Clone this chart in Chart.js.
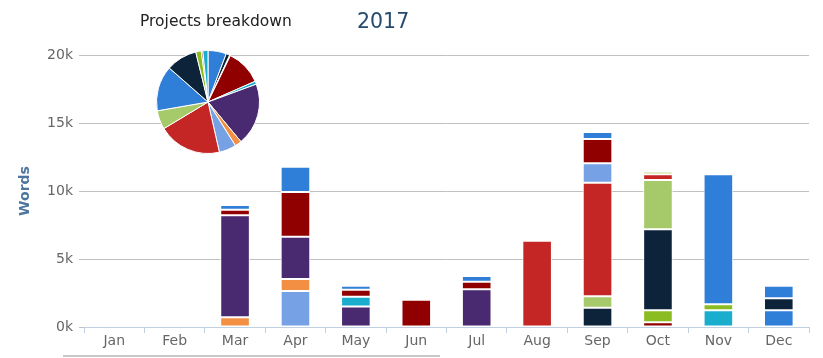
<!DOCTYPE html>
<html>
<head>
<meta charset="utf-8">
<script src="https://cdn.jsdelivr.net/npm/chart.js@4"></script>
<style>
	body { margin: 0; background: #fff; }
	.wrap { position: relative; width: 823px; height: 358px; overflow: hidden; font-family: 'DejaVu Sans', sans-serif; }
	.main-title { position: absolute; left: 357px; top: 9px; font-size: 20.5px; color: #274b6d; white-space: nowrap; }
	.pie-title { position: absolute; left: 140px; top: 12px; font-size: 15.5px; color: #222; white-space: nowrap; }
	#pie { position: absolute; left: 156px; top: 50px; }
	.scroll-line { position: absolute; left: 63px; top: 355px; width: 377px; height: 2px; background: #c8c8c8; }
</style>
</head>
<body>
<div class="wrap">
	<canvas id="bars" width="823" height="358"></canvas>
	<canvas id="pie" width="104" height="104"></canvas>
	<div class="pie-title">Projects breakdown</div>
	<div class="main-title">2017</div>
	<div class="scroll-line"></div>
</div>
<script>
const months = ['Jan', 'Feb', 'Mar', 'Apr', 'May', 'Jun', 'Jul', 'Aug', 'Sep', 'Oct', 'Nov', 'Dec'];
const yTicks = [0, 5000, 10000, 15000, 20000];
const projects = ['Project 1', 'Project 2', 'Project 3', 'Project 4', 'Project 5', 'Project 6', 'Project 7', 'Project 8',
	'Project 9', 'Project 10', 'Project 11', 'Project 12', 'Project 13', 'Project 14', 'Project 15'];
// words per month, one list per project (first project sits on top of each stack)
const p1 = [0, 0, 350, 1850, 300, 0, 420, 0, 520, 0, 0, 930];
const p2 = [0, 0, 0, 0, 0, 0, 0, 0, 0, 0, 0, 880];
const p3 = [0, 0, 0, 0, 0, 0, 0, 0, 0, 190, 0, 0];
const p4 = [0, 0, 400, 3300, 500, 2000, 560, 0, 1780, 0, 0, 0];
const p5 = [0, 0, 0, 0, 730, 0, 0, 0, 0, 0, 0, 0];
const p6 = [0, 0, 7500, 3100, 1500, 0, 2770, 0, 0, 0, 0, 0];
const p7 = [0, 0, 720, 880, 0, 0, 0, 0, 0, 0, 0, 0];
const p8 = [0, 0, 0, 2650, 0, 0, 0, 0, 1430, 0, 0, 0];
const p9 = [0, 0, 0, 0, 0, 0, 0, 6350, 8350, 420, 0, 0];
const p10 = [0, 0, 0, 0, 0, 0, 0, 0, 840, 3630, 0, 0];
const p11 = [0, 0, 0, 0, 0, 0, 0, 0, 0, 0, 9560, 1230];
const p12 = [0, 0, 0, 0, 0, 0, 0, 0, 1420, 5950, 0, 0];
const p13 = [0, 0, 0, 0, 0, 0, 0, 0, 0, 880, 440, 0];
const p14 = [0, 0, 0, 0, 0, 0, 0, 0, 0, 350, 0, 0];
const p15 = [0, 0, 0, 0, 0, 0, 0, 0, 0, 0, 1230, 0];
const series = [p1, p2, p3, p4, p5, p6, p7, p8, p9, p10, p11, p12, p13, p14, p15];
const palette = ['#2f7ed8', '#0d233a', '#8bbc21', '#910000', '#1aadce', '#492970', '#f28f43', '#77a1e5', '#c42525', '#a6c96a'];

Chart.defaults.font.family = "'DejaVu Sans', sans-serif";
Chart.defaults.animation = false;

const colorOf = (i) => palette[i % palette.length];

// stacks are built bottom-up, so the last project goes first
const barSets = series.map(function (vals, i) {
	return {
		label: projects[i],
		data: vals,
		backgroundColor: colorOf(i),
		borderColor: '#ffffff',
		borderWidth: 1,
		borderSkipped: false,
		categoryPercentage: 1,
		barPercentage: 0.49,
	};
}).reverse();

new Chart(document.getElementById('bars'), {
	type: 'bar',
	data: {
		labels: months,
		datasets: barSets,
	},
	options: {
		responsive: false,
		layout: {
			padding: { top: 55, right: 14, bottom: 0, left: 0 },
		},
		scales: {
			x: {
				stacked: true,
				afterFit: (scale) => { scale.height = 31; },
				border: { color: '#c0d0e0', width: 1 },
				grid: {
					display: true,
					drawOnChartArea: false,
					drawTicks: true,
					tickLength: 6,
					color: '#c0d0e0',
				},
				ticks: {
					padding: 0,
					color: '#666666',
					font: { size: 14 },
					maxRotation: 0,
				},
			},
			y: {
				stacked: true,
				min: 0,
				max: 20000,
				afterFit: (scale) => { scale.width = 84; },
				afterBuildTicks: (scale) => {
					scale.ticks = yTicks.map((v) => ({ value: v }));
				},
				border: { display: false },
				grid: {
					color: '#c0c0c0',
					drawTicks: true,
					tickLength: 5,
				},
				ticks: {
					padding: 6,
					color: '#666666',
					font: { size: 14 },
					callback: (v) => v / 1000 + 'k',
				},
				title: {
					display: true,
					text: 'Words',
					color: '#4d759e',
					font: { size: 14, weight: 'bold' },
					padding: { top: 17, bottom: 0 },
				},
			},
		},
		plugins: {
			legend: { display: false },
			tooltip: { enabled: false },
		},
	},
});

// pie: total words per project over the year
const totals = series.map((vals) => vals.reduce((a, b) => a + b, 0));

new Chart(document.getElementById('pie'), {
	type: 'pie',
	data: {
		labels: projects,
		datasets: [
			{
				data: totals,
				backgroundColor: series.map((v, i) => colorOf(i)),
				borderColor: '#ffffff',
				borderWidth: 1,
			},
		],
	},
	options: {
		responsive: false,
		plugins: {
			legend: { display: false },
			tooltip: { enabled: false },
		},
	},
});
</script>
</body>
</html>
